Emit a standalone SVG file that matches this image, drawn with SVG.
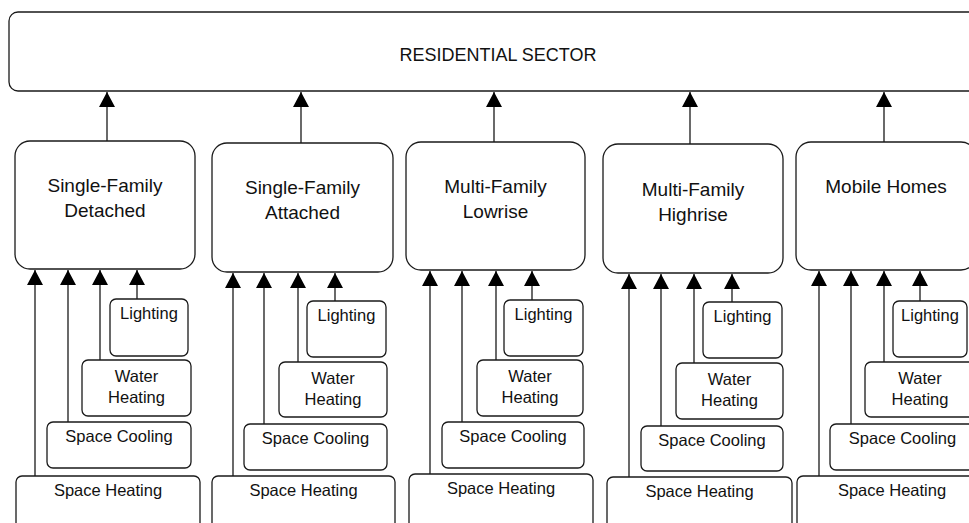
<svg xmlns="http://www.w3.org/2000/svg" width="969" height="523" viewBox="0 0 969 523">
<style>
.box{fill:#fff;stroke:#1a1a1a;stroke-width:1.3}
.cat{font-family:"Liberation Sans",Arial,sans-serif;font-size:19px;fill:#111;text-anchor:middle}
.top{font-family:"Liberation Sans",Arial,sans-serif;font-size:18px;fill:#111;text-anchor:middle}
.sub{font-family:"Liberation Sans",Arial,sans-serif;font-size:16.5px;fill:#111;text-anchor:middle}
.conn{stroke:#1a1a1a;stroke-width:1.3;fill:none;marker-end:url(#ah)}
</style>
<defs>
<marker id="ah" viewBox="0 0 15 16" refX="15" refY="8" markerWidth="15" markerHeight="16" markerUnits="userSpaceOnUse" orient="auto">
<path d="M0,0 L15,8 L0,16 z" fill="#000"/>
</marker>
</defs>
<rect width="969" height="523" fill="#fff"/>

<g id="residential-sector">
<rect class="box" x="9" y="12" width="980" height="79" rx="9"/>
<text class="top" x="498" y="61">RESIDENTIAL SECTOR</text>
</g>

<g id="sf-detached">
<rect class="box" x="15" y="141" width="180" height="128" rx="15"/>
<text class="cat" x="105" y="192">Single-Family</text>
<text class="cat" x="105" y="217">Detached</text>
</g>
<g id="sf-detached-lighting"><rect class="box" x="110" y="299" width="78" height="57" rx="6"/><text class="sub" x="149" y="319">Lighting</text></g>
<g id="sf-detached-water"><rect class="box" x="82" y="360" width="109" height="56" rx="6"/><text class="sub" x="136.5" y="382">Water</text><text class="sub" x="136.5" y="403">Heating</text></g>
<g id="sf-detached-cooling"><rect class="box" x="47" y="422" width="144" height="46" rx="6"/><text class="sub" x="119" y="442">Space Cooling</text></g>
<g id="sf-detached-heating"><rect class="box" x="16" y="476" width="184" height="60" rx="6"/><text class="sub" x="108" y="496">Space Heating</text></g>

<g id="sf-attached">
<rect class="box" x="212" y="143" width="181" height="129" rx="15"/>
<text class="cat" x="302.5" y="194">Single-Family</text>
<text class="cat" x="302.5" y="219">Attached</text>
</g>
<g id="sf-attached-lighting"><rect class="box" x="307" y="301" width="79" height="56" rx="6"/><text class="sub" x="346.5" y="321">Lighting</text></g>
<g id="sf-attached-water"><rect class="box" x="279" y="362" width="108" height="55" rx="6"/><text class="sub" x="333" y="384">Water</text><text class="sub" x="333" y="405">Heating</text></g>
<g id="sf-attached-cooling"><rect class="box" x="244" y="424" width="143" height="46" rx="6"/><text class="sub" x="315.5" y="444">Space Cooling</text></g>
<g id="sf-attached-heating"><rect class="box" x="212" y="476" width="183" height="60" rx="6"/><text class="sub" x="303.5" y="496">Space Heating</text></g>

<g id="mf-lowrise">
<rect class="box" x="406" y="142" width="179" height="128" rx="15"/>
<text class="cat" x="495.5" y="193">Multi-Family</text>
<text class="cat" x="495.5" y="218">Lowrise</text>
</g>
<g id="mf-lowrise-lighting"><rect class="box" x="504" y="300" width="79" height="56" rx="6"/><text class="sub" x="543.5" y="320">Lighting</text></g>
<g id="mf-lowrise-water"><rect class="box" x="477" y="360" width="106" height="56" rx="6"/><text class="sub" x="530" y="382">Water</text><text class="sub" x="530" y="403">Heating</text></g>
<g id="mf-lowrise-cooling"><rect class="box" x="442" y="422" width="142" height="46" rx="6"/><text class="sub" x="513" y="442">Space Cooling</text></g>
<g id="mf-lowrise-heating"><rect class="box" x="409" y="474" width="184" height="62" rx="6"/><text class="sub" x="501" y="494">Space Heating</text></g>

<g id="mf-highrise">
<rect class="box" x="603" y="144" width="180" height="129" rx="15"/>
<text class="cat" x="693" y="196">Multi-Family</text>
<text class="cat" x="693" y="221">Highrise</text>
</g>
<g id="mf-highrise-lighting"><rect class="box" x="703" y="302" width="79" height="56" rx="6"/><text class="sub" x="742.5" y="322">Lighting</text></g>
<g id="mf-highrise-water"><rect class="box" x="676" y="363" width="107" height="56" rx="6"/><text class="sub" x="729.5" y="385">Water</text><text class="sub" x="729.5" y="406">Heating</text></g>
<g id="mf-highrise-cooling"><rect class="box" x="641" y="426" width="142" height="45" rx="6"/><text class="sub" x="712" y="446">Space Cooling</text></g>
<g id="mf-highrise-heating"><rect class="box" x="607" y="477" width="185" height="60" rx="6"/><text class="sub" x="699.5" y="497">Space Heating</text></g>

<g id="mobile-homes">
<rect class="box" x="796" y="142" width="180" height="128" rx="15"/>
<text class="cat" x="886" y="193">Mobile Homes</text>
</g>
<g id="mobile-homes-lighting"><rect class="box" x="893" y="301" width="74" height="56" rx="6"/><text class="sub" x="930" y="321">Lighting</text></g>
<g id="mobile-homes-water"><rect class="box" x="865" y="362" width="110" height="55" rx="6"/><text class="sub" x="920" y="384">Water</text><text class="sub" x="920" y="405">Heating</text></g>
<g id="mobile-homes-cooling"><rect class="box" x="830" y="424" width="145" height="46" rx="6"/><text class="sub" x="902.5" y="444">Space Cooling</text></g>
<g id="mobile-homes-heating"><rect class="box" x="797" y="476" width="190" height="60" rx="6"/><text class="sub" x="892" y="496">Space Heating</text></g>

<g id="connectors">
<line class="conn" x1="107" y1="141" x2="107" y2="92"/>
<line class="conn" x1="301" y1="143" x2="301" y2="92"/>
<line class="conn" x1="494" y1="142" x2="494" y2="92"/>
<line class="conn" x1="690" y1="144" x2="690" y2="92"/>
<line class="conn" x1="884" y1="142" x2="884" y2="92"/>

<line class="conn" x1="35" y1="476" x2="35" y2="270"/>
<line class="conn" x1="68" y1="422" x2="68" y2="270"/>
<line class="conn" x1="100" y1="360" x2="100" y2="270"/>
<line class="conn" x1="137" y1="299" x2="137" y2="270"/>

<line class="conn" x1="233" y1="476" x2="233" y2="273"/>
<line class="conn" x1="264" y1="424" x2="264" y2="273"/>
<line class="conn" x1="298" y1="362" x2="298" y2="273"/>
<line class="conn" x1="335" y1="301" x2="335" y2="273"/>

<line class="conn" x1="430" y1="474" x2="430" y2="271"/>
<line class="conn" x1="462" y1="422" x2="462" y2="271"/>
<line class="conn" x1="496" y1="360" x2="496" y2="271"/>
<line class="conn" x1="532" y1="300" x2="532" y2="271"/>

<line class="conn" x1="629" y1="477" x2="629" y2="274"/>
<line class="conn" x1="661" y1="426" x2="661" y2="274"/>
<line class="conn" x1="694" y1="363" x2="694" y2="274"/>
<line class="conn" x1="732" y1="302" x2="732" y2="274"/>

<line class="conn" x1="819" y1="476" x2="819" y2="271"/>
<line class="conn" x1="851" y1="424" x2="851" y2="271"/>
<line class="conn" x1="884" y1="362" x2="884" y2="271"/>
<line class="conn" x1="920" y1="301" x2="920" y2="271"/>
</g>
</svg>
